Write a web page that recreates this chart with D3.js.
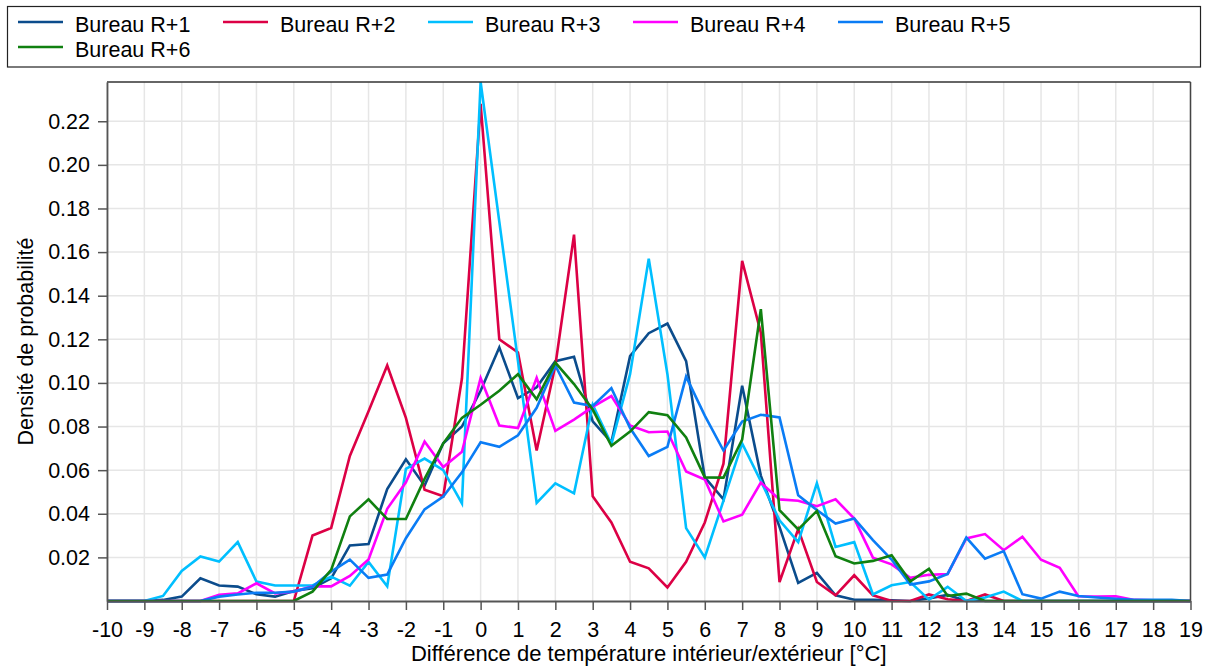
<!DOCTYPE html>
<html>
<head>
<meta charset="utf-8">
<script src="https://cdn.jsdelivr.net/npm/d3@7"></script>
<style>
  html, body { margin: 0; padding: 0; background: #fff; }
  svg { display: block; font-family: "Liberation Sans", Arial, sans-serif; }
</style>
</head>
<body>
<svg id="chart" width="1208" height="666"></svg>
<script>
// ---- data ----
const xValues = [-10,-9.5,-9,-8.5,-8,-7.5,-7,-6.5,-6,-5.5,
  -5,-4.5,-4,-3.5,-3,-2.5,-2,-1.5,-1,-0.5,
  0,0.5,1,1.5,2,2.5,3,3.5,4,4.5,
  5,5.5,6,6.5,7,7.5,8,8.5,9,9.5,
  10,10.5,11,11.5,12,12.5,13,13.5,14,14.5,
  15,15.5,16,16.5,17,17.5,18,18.5,19];

const seriesNames = ["Bureau R+1","Bureau R+2","Bureau R+3","Bureau R+4","Bureau R+5","Bureau R+6"];
const seriesColors = ["#0b4c8c","#dc0045","#00bfff","#ff00ff","#0a7cf5","#108010"];

const r1 = [0,0,0,0.0005,0.002,0.0104,0.0071,0.0066,0.0031,0.002,
  0.0046,0.0058,0.0104,0.0255,0.0261,0.0513,0.065,0.0529,0.0723,0.080,
  0.0964,0.1163,0.093,0.098,0.110,0.112,0.0824,0.0728,0.1123,0.1228,
  0.1272,0.110,0.0567,0.0466,0.0987,0.0575,0.034,0.0083,0.0129,0.0026,
  0.0006,0.0006,0.0003,0,0.0012,0.0028,0,0,0,0,
  0,0,0,0,0,0,0,0,0];
const r2 = [0,0,0,0,0,0,0,0,0,0,
  0,0.030,0.0335,0.0665,0.087,0.108,0.084,0.051,0.048,0.102,
  0.228,0.120,0.114,0.069,0.108,0.168,0.048,0.036,0.018,0.015,
  0.0062,0.018,0.036,0.063,0.156,0.123,0.0087,0.033,0.0087,0.0026,
  0.0118,0.0026,0,0,0.003,0.0008,0,0.003,0,0,
  0,0,0,0,0,0,0,0,0];
const r3 = [0,0,0,0.0023,0.0138,0.0204,0.0181,0.027,0.0089,0.0071,
  0.0071,0.0071,0.0112,0.007,0.0179,0.0067,0.0606,0.0653,0.060,0.0448,
  0.238,0.174,0.110,0.045,0.054,0.0494,0.090,0.072,0.104,0.157,
  0.104,0.0334,0.020,0.046,0.0723,0.055,0.037,0.027,0.054,0.0248,
  0.027,0.003,0.0072,0.0087,0.0006,0.0065,0,0.0016,0.0043,0,
  0,0,0,0,0,0,0,0,0];
const r4 = [0,0,0,0,0,0,0.0028,0.0035,0.0081,0.0035,
  0.0043,0.0067,0.0067,0.0115,0.019,0.0423,0.0544,0.0731,0.0614,0.0684,
  0.1023,0.0805,0.0793,0.1023,0.078,0.0832,0.089,0.094,0.0805,0.0774,
  0.0777,0.0594,0.0557,0.0365,0.0396,0.0543,0.0466,0.046,0.0435,0.0466,
  0.0378,0.0199,0.0168,0.0106,0.012,0.0124,0.0287,0.0307,0.0233,0.0295,
  0.0189,0.0152,0.0022,0.002,0.0022,0.0005,0.0003,0,0];
const r5 = [0,0,0,0,0,0,0.002,0.003,0.0038,0.0038,
  0.0043,0.0065,0.0135,0.019,0.0106,0.0121,0.0288,0.042,0.0479,0.059,
  0.0728,0.0707,0.076,0.0886,0.108,0.091,0.0894,0.0976,0.0793,0.0665,
  0.0707,0.1029,0.085,0.069,0.0823,0.0854,0.0842,0.0485,0.0417,0.0355,
  0.0378,0.0279,0.019,0.0075,0.009,0.0124,0.0291,0.0194,0.0229,0.0031,
  0.0011,0.0043,0.0023,0.0016,0.001,0.0005,0.0005,0.0005,0];
const r6 = [0,0,0,0,0,0,0,0,0,0,
  0,0.0043,0.0143,0.0388,0.0466,0.0376,0.0376,0.056,0.0723,0.084,
  0.090,0.0964,0.104,0.0925,0.1093,0.0995,0.0878,0.0712,0.0777,0.0866,
  0.0852,0.075,0.0567,0.0566,0.074,0.1338,0.0417,0.0328,0.0413,0.0205,
  0.0172,0.0184,0.021,0.009,0.0148,0.0023,0.0034,0,0,0,
  0,0,0,0,0,0,0,0,0];

const xTicks = [-10,-9,-8,-7,-6,-5,-4,-3,-2,-1,0,1,2,3,4,5,6,7,8,9,10,11,12,13,14,15,16,17,18,19];
const yTicks = [0.02,0.04,0.06,0.08,0.10,0.12,0.14,0.16,0.18,0.20,0.22];

const xTitle = "Différence de température intérieur/extérieur [°C]";
const yTitle = "Densité de probabilité";

// ---- drawing ----
const allSeries = [r1, r2, r3, r4, r5, r6];
const svg = d3.select("#chart");
const FONT = 21.5;

const plot = { left: 107, right: 1190.5, top: 82, bottom: 601 };

const x = d3.scaleLinear().domain([d3.min(xValues), d3.max(xValues)]).range([plot.left, plot.right]);
const yMax = d3.max(allSeries, s => d3.max(s));
const y = d3.scaleLinear().domain([0, yMax]).range([plot.bottom, plot.top]);

// grid
const grid = svg.append("g").attr("class", "grid");
grid.selectAll("line.v").data(xTicks).join("line")
  .attr("x1", d => x(d)).attr("x2", d => x(d))
  .attr("y1", plot.top).attr("y2", plot.bottom)
  .attr("stroke", "#e6e6e6").attr("stroke-width", 1.5);
grid.selectAll("line.h").data(yTicks).join("line")
  .attr("x1", plot.left).attr("x2", plot.right)
  .attr("y1", d => y(d)).attr("y2", d => y(d))
  .attr("stroke", "#e6e6e6").attr("stroke-width", 1.5);

// lines
const line = d3.line().x((d, i) => x(xValues[i])).y(d => y(d));
svg.append("g").selectAll("path").data(allSeries).join("path")
  .attr("d", d => line(d))
  .attr("fill", "none")
  .attr("stroke", (d, i) => seriesColors[i])
  .attr("stroke-width", 2.6)
  .attr("stroke-linejoin", "miter")
  .attr("stroke-miterlimit", 4);

// frame (top and right)
svg.append("line").attr("x1", plot.left).attr("x2", plot.right).attr("y1", plot.top).attr("y2", plot.top)
  .attr("stroke", "#333").attr("stroke-width", 1.5);
svg.append("line").attr("x1", plot.right).attr("x2", plot.right).attr("y1", plot.top).attr("y2", plot.bottom)
  .attr("stroke", "#444").attr("stroke-width", 1.5);

// axes
const xAxis = d3.axisBottom(x).tickValues(xTicks).tickFormat(d => String(d)).tickSize(9).tickPadding(12).tickSizeOuter(0);
const gx = svg.append("g").attr("transform", `translate(0,${plot.bottom})`).call(xAxis);
const yAxis = d3.axisLeft(y).tickValues(yTicks).tickFormat(d => d.toFixed(2)).tickSize(9).tickPadding(8).tickSizeOuter(0);
const gy = svg.append("g").attr("transform", `translate(${plot.left},0)`).call(yAxis);
[gx, gy].forEach(g => {
  g.select(".domain").attr("stroke", "#555").attr("stroke-width", 1.8);
  g.selectAll(".tick line").attr("stroke", "#555").attr("stroke-width", 1.5);
  g.selectAll(".tick text").attr("fill", "#000").attr("font-size", FONT)
    .attr("font-family", "'Liberation Sans', Arial, sans-serif");
});

// titles
svg.append("text").attr("x", (plot.left + plot.right) / 2).attr("y", 661)
  .attr("text-anchor", "middle").attr("font-size", 22).attr("fill", "#000").text(xTitle);
svg.append("text").attr("transform", `translate(33,${(plot.top + plot.bottom) / 2}) rotate(-90)`)
  .attr("text-anchor", "middle").attr("font-size", FONT).attr("fill", "#000").text(yTitle);

// legend
const legend = svg.append("g");
legend.append("rect").attr("x", 7.5).attr("y", 6.5).attr("width", 1193).attr("height", 60.5)
  .attr("fill", "#fff").attr("stroke", "#222").attr("stroke-width", 1.2);
const colW = 205, perRow = 5;
const items = legend.selectAll("g.item").data(seriesNames).join("g")
  .attr("transform", (d, i) => `translate(${18 + (i % perRow) * colW},${22 + Math.floor(i / perRow) * 25})`);
items.append("line").attr("x1", 0).attr("x2", 45).attr("y1", 0).attr("y2", 0)
  .attr("stroke", (d, i) => seriesColors[i]).attr("stroke-width", 2.6);
items.append("text").attr("x", 57).attr("y", 9.5).attr("font-size", FONT).attr("fill", "#000").text(d => d);
</script>
</body>
</html>
